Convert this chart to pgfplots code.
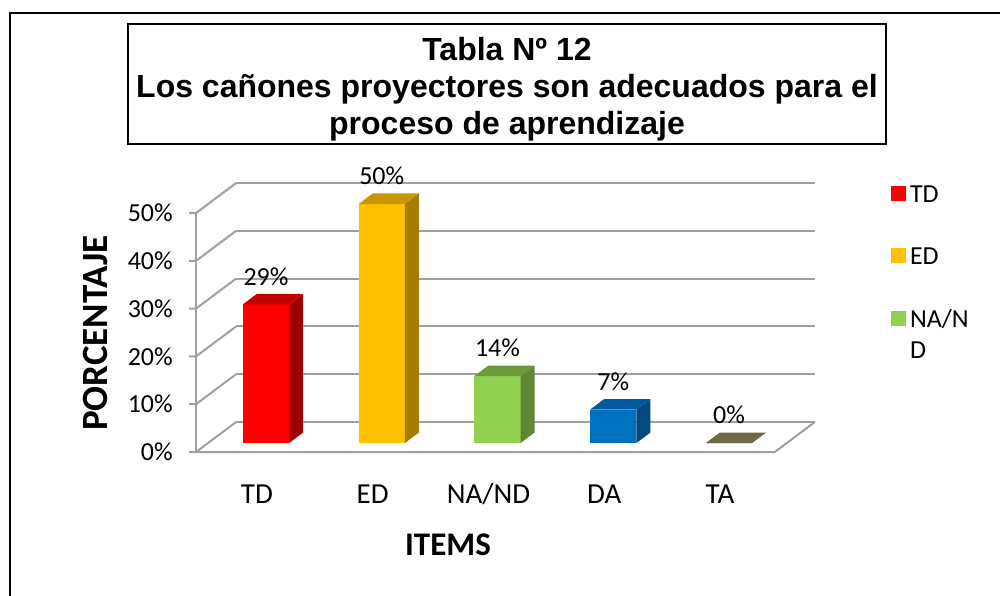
\documentclass[border=0pt]{standalone}
\usepackage{fontspec}
\setmainfont{Carlito}
\newfontfamily\arialfont{Liberation Sans}
\usepackage{pgfplots}
\pgfplotsset{compat=1.18}
\definecolor{gridc}{HTML}{A0A0A0}
\definecolor{tdF}{HTML}{FF0000}\definecolor{tdT}{HTML}{C00000}\definecolor{tdS}{HTML}{A00000}
\definecolor{edF}{HTML}{FFC000}\definecolor{edT}{HTML}{C89700}\definecolor{edS}{HTML}{A57D00}
\definecolor{naF}{HTML}{92D050}\definecolor{naT}{HTML}{6C9A3B}\definecolor{naS}{HTML}{5E8732}
\definecolor{daF}{HTML}{0070C0}\definecolor{daT}{HTML}{005A9C}\definecolor{daS}{HTML}{004A80}
\definecolor{taT}{HTML}{6E6A45}
\pgfplotsset{legsq/.style={legend image code/.code={\fill[##1] (0pt,-4pt) rectangle (7.5pt,3.5pt);}}}
\begin{document}
\begin{tikzpicture}
\path[use as bounding box] (0,0) rectangle (500pt,297.5pt);
\draw[line width=1pt] (5pt,-2pt) -- (5pt,291pt) -- (502pt,291pt);
\draw[line width=1pt] (64pt,225.5pt) rectangle (443pt,285.5pt);
\node[align=center, font=\fontsize{16}{18.5}\selectfont\arialfont\bfseries] at (253.5pt,253pt)
  {Tabla Nº 12\\Los cañones proyectores son adecuados para el\\proceso de aprendizaje};
\begin{axis}[
  at={(104.05pt,76pt)}, anchor=south west,
  scale only axis, width=289.4pt, height=119.5pt,
  xmin=-0.5, xmax=4.5, ymin=0, ymax=50,
  clip=false,
  axis line style={draw=none},
  tick style={draw=none},
  xtick={0,1,2,3,4}, xticklabels={TD,ED,NA/ND,DA,TA},
  xticklabel style={anchor=base, yshift=-30pt, xshift=-4.5pt, font=\fontsize{14.5}{16}\selectfont, inner sep=0pt},
  ytick={0,10,20,30,40,50}, yticklabels={0\%,10\%,20\%,30\%,40\%,50\%},
  yticklabel style={anchor=east, xshift=-17.5pt, yshift=-4.5pt, font=\fontsize{13}{15}\selectfont, inner sep=0pt},
  legend style={at={(1.1799,1.1033)}, anchor=north west, draw=none, fill=none,
    inner sep=0pt, outer sep=0pt, row sep=18pt, column sep=1.5pt,
    nodes={inner sep=0.5pt}, font=\fontsize{13}{15.5}\selectfont, cells={anchor=west}},
  nodes near coords={\pgfmathprintnumber[assume math mode=true]{\pgfplotspointmeta}\%},
  nodes near coords align={center},
  every node near coord/.append style={yshift=14pt, font=\fontsize{13}{15}\selectfont},
]
% back wall grid lines
\draw[gridc, line width=1pt] (axis cs:-0.2581,4.393) -- (axis cs:4.7419,4.393);
\draw[gridc, line width=1pt] (axis cs:-0.2581,14.393) -- (axis cs:4.7419,14.393);
\draw[gridc, line width=1pt] (axis cs:-0.2581,24.393) -- (axis cs:4.7419,24.393);
\draw[gridc, line width=1pt] (axis cs:-0.2581,34.393) -- (axis cs:4.7419,34.393);
\draw[gridc, line width=1pt] (axis cs:-0.2581,44.393) -- (axis cs:4.7419,44.393);
\draw[gridc, line width=1pt] (axis cs:-0.2581,54.393) -- (axis cs:4.7419,54.393);
% left wall diagonals and ticks
\draw[gridc, line width=1pt] ([xshift=-3.5pt]axis cs:-0.6037,-1.883) -- (axis cs:-0.6037,-1.883) -- (axis cs:-0.2581,4.393);
\draw[gridc, line width=1pt] ([xshift=-3.5pt]axis cs:-0.6037,8.117) -- (axis cs:-0.6037,8.117) -- (axis cs:-0.2581,14.393);
\draw[gridc, line width=1pt] ([xshift=-3.5pt]axis cs:-0.6037,18.117) -- (axis cs:-0.6037,18.117) -- (axis cs:-0.2581,24.393);
\draw[gridc, line width=1pt] ([xshift=-3.5pt]axis cs:-0.6037,28.117) -- (axis cs:-0.6037,28.117) -- (axis cs:-0.2581,34.393);
\draw[gridc, line width=1pt] ([xshift=-3.5pt]axis cs:-0.6037,38.117) -- (axis cs:-0.6037,38.117) -- (axis cs:-0.2581,44.393);
\draw[gridc, line width=1pt] ([xshift=-3.5pt]axis cs:-0.6037,48.117) -- (axis cs:-0.6037,48.117) -- (axis cs:-0.2581,54.393);
\draw[gridc, line width=1pt] (axis cs:-0.6037,-1.883) -- (axis cs:-0.6037,48.117);
% floor
\draw[gridc, line width=1pt] (axis cs:-0.6037,-1.883) -- (axis cs:4.3963,-1.883) -- (axis cs:4.7419,4.393);
% TD
\addplot[ybar, bar shift=0pt, bar width=0.4, fill=tdF, draw=none, legsq] coordinates {(0,29)};
\addlegendentry{TD\strut}
\addplot[fill=tdS, draw=none, forget plot, nodes near coords={}] coordinates {(0.2,0) (0.321,2.197) (0.321,31.197) (0.2,29)};
\addplot[fill=tdT, draw=none, forget plot, nodes near coords={}] coordinates {(-0.2,29) (0.2,29) (0.321,31.197) (-0.079,31.197)};
% ED
\addplot[ybar, bar shift=0pt, bar width=0.4, fill=edF, draw=none, legsq] coordinates {(1,50)};
\addlegendentry{ED\strut}
\addplot[fill=edS, draw=none, forget plot, nodes near coords={}] coordinates {(1.2,0) (1.321,2.197) (1.321,52.197) (1.2,50)};
\addplot[fill=edT, draw=none, forget plot, nodes near coords={}] coordinates {(0.8,50) (1.2,50) (1.321,52.197) (0.921,52.197)};
% NA/ND
\addplot[ybar, bar shift=0pt, bar width=0.4, fill=naF, draw=none, legsq] coordinates {(2,14)};
\addlegendentry{\begin{tabular}[t]{@{}l@{}}NA/N\\D\end{tabular}}
\addplot[fill=naS, draw=none, forget plot, nodes near coords={}] coordinates {(2.2,0) (2.321,2.197) (2.321,16.197) (2.2,14)};
\addplot[fill=naT, draw=none, forget plot, nodes near coords={}] coordinates {(1.8,14) (2.2,14) (2.321,16.197) (1.921,16.197)};
% DA
\addplot[ybar, bar shift=0pt, bar width=0.4, fill=daF, draw=none, forget plot] coordinates {(3,7)};
\addplot[fill=daS, draw=none, forget plot, nodes near coords={}] coordinates {(3.2,0) (3.321,2.197) (3.321,9.197) (3.2,7)};
\addplot[fill=daT, draw=none, forget plot, nodes near coords={}] coordinates {(2.8,7) (3.2,7) (3.321,9.197) (2.921,9.197)};
% TA
\addplot[ybar, bar shift=0pt, bar width=0.4, fill=taT, draw=none, forget plot] coordinates {(4,0)};
\addplot[fill=taT, draw=none, forget plot, nodes near coords={}] coordinates {(3.8,0) (4.2,0) (4.321,2.197) (3.921,2.197)};
\end{axis}
\node[rotate=90, font=\fontsize{18.5}{20}\selectfont\bfseries] at (47.5pt,131pt) {PORCENTAJE};
\node[font=\fontsize{16.5}{18}\selectfont\bfseries] at (224pt,25pt) {ITEMS};
\end{tikzpicture}
\end{document}
